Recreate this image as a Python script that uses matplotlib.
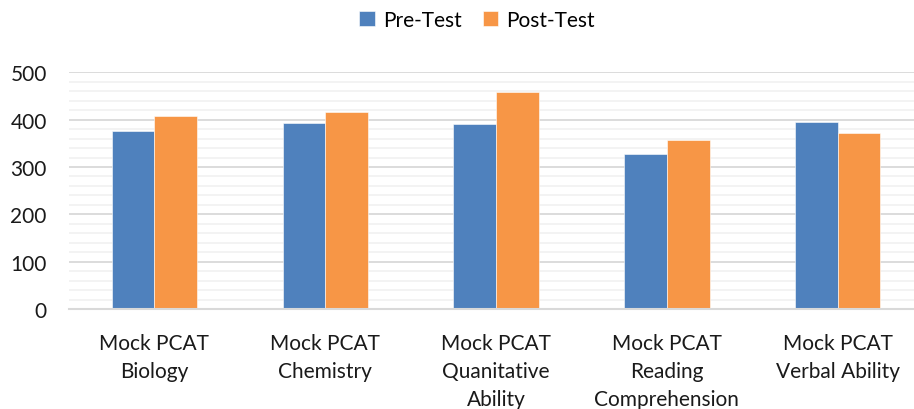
import matplotlib
matplotlib.use("Agg")
import matplotlib.pyplot as plt
import numpy as np
from matplotlib.ticker import MultipleLocator

categories = ["Mock PCAT\nBiology", "Mock PCAT\nChemistry", "Mock PCAT\nQuanitative\nAbility",
              "Mock PCAT\nReading\nComprehension", "Mock PCAT\nVerbal Ability"]
pre_test = [376, 392, 391, 327, 395]
post_test = [407, 416, 458, 358, 372]
series_names = ["Pre-Test", "Post-Test"]
yticks = [0, 100, 200, 300, 400, 500]

plt.rcParams['font.family'] = ['Lato', 'DejaVu Sans']

fig = plt.figure(figsize=(9.14, 4.10), dpi=100)
W, H = 914, 410
left, right, top_px, bot_px = 69, 923, 73.3, 310
ax = fig.add_axes([left / W, (H - bot_px) / H, (right - left) / W, (bot_px - top_px) / H])

x = np.arange(len(categories))
w = 0.25
ax.bar(x - w / 2, pre_test, w, color="#4F81BD", edgecolor="white", linewidth=0.4,
       label=series_names[0], zorder=3)
ax.bar(x + w / 2, post_test, w, color="#F79646", edgecolor="white", linewidth=0.4,
       label=series_names[1], zorder=3)

ax.set_xlim(-0.5, len(categories) - 0.5)
ax.set_ylim(0, 500)
ax.set_yticks(yticks)
ax.yaxis.set_minor_locator(MultipleLocator(20))
ax.grid(axis='y', which='major', color="#D9D9D9", linewidth=1.3, zorder=1)
ax.grid(axis='y', which='minor', color="#F2F2F2", linewidth=1.3, zorder=0)
ax.set_axisbelow(True)

for s in ['top', 'right', 'left']:
    ax.spines[s].set_visible(False)
ax.spines['bottom'].set_color("#D9D9D9")
ax.spines['bottom'].set_linewidth(1.5)
ax.spines['bottom'].set_zorder(4)

ax.set_xticks(x)
ax.set_xticklabels(categories, fontsize=15, color="#1a1a1a", linespacing=1.5)
ax.tick_params(axis='x', length=0, pad=17)
ax.tick_params(axis='y', which='both', length=0, pad=16, labelsize=15, labelcolor="#1a1a1a")

fig.legend(loc='center', bbox_to_anchor=(0.522, 1 - 21 / H), ncol=2, frameon=False,
           fontsize=15, handlelength=0.75, handleheight=0.75, handletextpad=0.4,
           columnspacing=1.0)

fig.savefig("out.png", dpi=100)
